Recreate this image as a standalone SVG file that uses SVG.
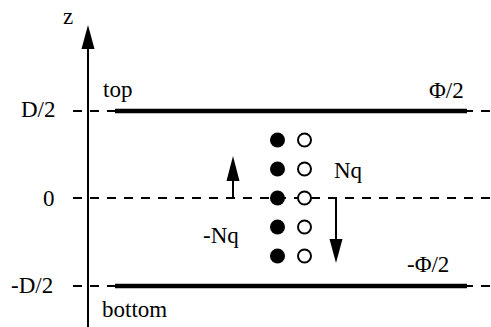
<svg xmlns="http://www.w3.org/2000/svg" width="491" height="327" viewBox="0 0 491 327">
<style>
text{font-family:'Liberation Serif','DejaVu Serif',serif;font-size:23px;fill:#000}
.dash{stroke:#000;stroke-width:2;stroke-dasharray:9 8;fill:none}
.plate{stroke:#000;stroke-width:4.5;fill:none}
.shaft{stroke:#000;stroke-width:2;fill:none}
.full{fill:#000}
.hole{fill:#fff;stroke:#000;stroke-width:2}
</style>
<rect width="491" height="327" fill="#fff"/>
<g id="connectors">
<line class="dash" x1="73" y1="111" x2="491" y2="111"/>
<line class="dash" x1="73" y1="198" x2="491" y2="198"/>
<line class="dash" x1="73" y1="286" x2="491" y2="286"/>
<line class="shaft" x1="88" y1="327" x2="88" y2="45"/>
<polygon points="88,25 94.5,49 81.5,49"/>
<line class="shaft" x1="233" y1="198" x2="233" y2="178"/>
<polygon points="233,156 239.5,181 226.5,181"/>
<line class="shaft" x1="336" y1="198" x2="336" y2="242"/>
<polygon points="336,263 342.5,239 329.5,239"/>
</g>
<g id="plate-top"><line class="plate" x1="115" y1="111" x2="467" y2="111"/></g>
<g id="plate-bottom"><line class="plate" x1="115" y1="286" x2="467" y2="286"/></g>
<g id="charges-neg">
<circle class="full" cx="277.5" cy="140" r="7.5"/>
<circle class="full" cx="277.5" cy="169" r="7.5"/>
<circle class="full" cx="277.5" cy="198" r="7.5"/>
<circle class="full" cx="277.5" cy="227" r="7.5"/>
<circle class="full" cx="277.5" cy="256" r="7.5"/>
</g>
<g id="charges-pos">
<circle class="hole" cx="304.5" cy="140" r="6.5"/>
<circle class="hole" cx="304.5" cy="169" r="6.5"/>
<circle class="hole" cx="304.5" cy="198" r="6.5"/>
<circle class="hole" cx="304.5" cy="227" r="6.5"/>
<circle class="hole" cx="304.5" cy="256" r="6.5"/>
</g>
<g id="labels">
<text x="63" y="24">z</text>
<text x="103" y="97">top</text>
<text x="102" y="317">bottom</text>
<text x="21" y="117">D/2</text>
<text x="43" y="206">0</text>
<text x="11" y="293">-D/2</text>
<text x="429" y="98">Φ/2</text>
<text x="407" y="272">-Φ/2</text>
<text x="334" y="178">Nq</text>
<text x="203" y="243">-Nq</text>
</g>
</svg>
